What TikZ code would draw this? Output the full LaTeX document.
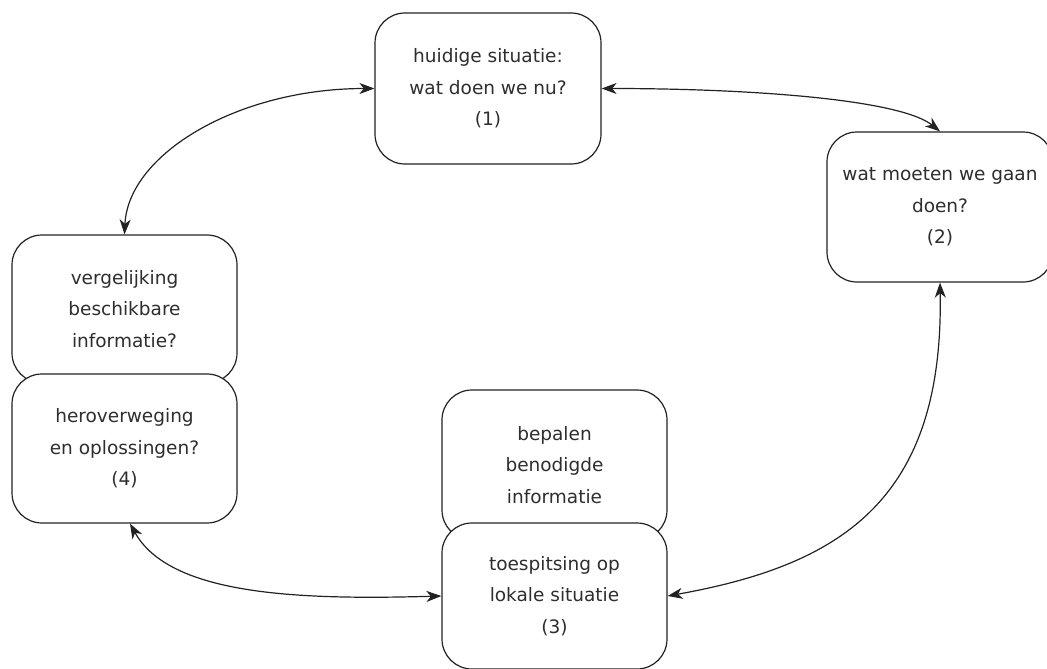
\documentclass[tikz,border=0pt]{standalone}
\usepackage{fontspec}
\setmainfont{DejaVu Sans}
\usetikzlibrary{arrows.meta}
\definecolor{ink}{HTML}{222222}
\definecolor{txt}{HTML}{2E2E2E}
\tikzset{
  stagebox/.style={draw=ink, line width=1.2pt, fill=white, rounded corners=30pt,
    minimum width=226pt, inner sep=0pt, align=center, text=txt,
    font=\fontsize{18.5pt}{31.5pt}\selectfont},
  tip/.style={Stealth[length=15pt,width=11pt,inset=4.5pt]},
  link/.style={draw=ink, line width=1.2pt, {Stealth[length=15pt,width=11pt,inset=4.5pt]}-{Stealth[length=15pt,width=11pt,inset=4.5pt]}}
}
\begin{document}
\begin{tikzpicture}[x=1pt,y=-1pt]
  \useasboundingbox (0,0) rectangle (1047,669);
  % the four stages of the cycle
  \node[stagebox, minimum height=151pt] (b1) at (488,88.5) {huidige situatie:\\wat doen we nu?\\(1)};
  \node[stagebox, minimum height=150pt] (b2) at (940,207) {wat moeten we gaan\\doen?\\(2)};
  \node[stagebox, minimum width=225pt, minimum height=148pt] (b4a) at (124.5,309) {vergelijking\\beschikbare\\informatie?};
  \node[stagebox, minimum width=225pt, minimum height=149pt] (b4b) at (124.5,448.5) {heroverweging\\en oplossingen?\\(4)};
  \node[stagebox, minimum width=225pt, minimum height=150pt] (b3a) at (554.5,465) {bepalen\\benodigde\\informatie};
  \node[stagebox, minimum width=225pt, minimum height=146pt] (b3b) at (554.5,596) {toespitsing op\\lokale situatie\\(3)};
  % two-way links between the stages
  \draw[link] (b1.west) .. controls +(-137,0) and +(3.5,-80) .. (b4a.north);
  \draw[link] (b1.east) .. controls +(149,0) and +(-40,-32) .. (b2.north);
  \draw[link] (b2.south) .. controls +(4,218) and +(173,-31) .. (b3b.east);
  \draw[link] (b3b.west) .. controls +(-142,4) and +(40,72) .. ([xshift=5.5pt]b4b.south);
\end{tikzpicture}
\end{document}
